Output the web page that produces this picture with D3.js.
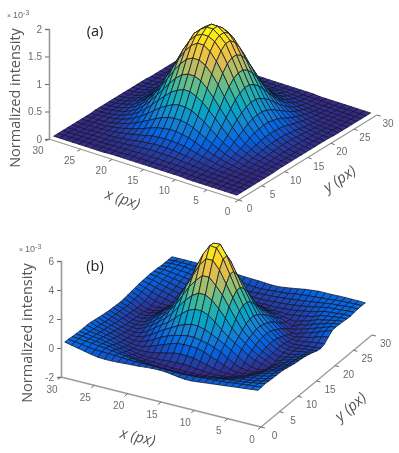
<!DOCTYPE html>
<html>
<head>
<meta charset="utf-8">
<script src="https://cdnjs.cloudflare.com/ajax/libs/d3/7.8.5/d3.min.js"></script>
<style>
  html, body { margin: 0; padding: 0; background: #fff; }
  svg { display: block; filter: blur(0.3px); }
</style>
</head>
<body>
<svg width="399" height="453"></svg>
<script>
// tick labels
const xyTicks = [0, 5, 10, 15, 20, 25, 30];
const zTicksA = [0, 0.5, 1, 1.5, 2];
const zTicksB = [-2, 0, 2, 4, 6];

// grid positions along x and y (px)
const gridPx = [1,2,3,4,5,6,7,8,9,10,11,12,13,14,15,16,17,18,19,20,21,22,23,24,25,26,27,28,29,30];

// surface (a), units of 1e-5. rows = x, columns = y
const surfaceA = [
[0,0,0,0,0,0,0,0,0,1,1,1,1,1,1,1,1,1,1,1,1,0,0,0,0,0,0,0,0,0],
[0,0,0,0,0,0,0,1,1,1,1,2,2,2,2,2,2,2,2,1,1,1,1,0,0,0,0,0,0,0],
[0,0,0,0,0,1,1,1,2,2,3,3,4,4,4,4,4,4,3,3,2,2,1,1,1,0,0,0,0,0],
[0,0,0,0,1,1,1,2,3,4,5,6,7,8,8,8,8,7,6,5,4,3,2,1,1,1,0,0,0,0],
[0,0,0,1,1,2,2,3,5,6,8,10,11,13,13,13,13,11,10,8,6,5,3,2,2,1,1,0,0,0],
[0,0,1,1,2,3,4,6,8,11,13,16,19,20,21,21,20,19,16,13,11,8,6,4,3,2,1,1,0,0],
[0,0,1,1,2,4,6,9,12,16,20,25,29,31,33,33,31,29,25,20,16,12,9,6,4,2,1,1,0,0],
[0,1,1,2,3,6,9,13,18,24,30,36,42,46,48,48,46,42,36,30,24,18,13,9,6,3,2,1,1,0],
[0,1,2,3,5,8,12,18,25,33,42,51,58,64,67,67,64,58,51,42,33,25,18,12,8,5,3,2,1,0],
[1,1,2,4,6,11,16,24,33,44,56,67,78,85,90,90,85,78,67,56,44,33,24,16,11,6,4,2,1,1],
[1,1,3,5,8,13,20,30,42,56,70,85,98,108,113,113,108,98,85,70,56,42,30,20,13,8,5,3,1,1],
[1,2,3,6,10,16,25,36,51,67,85,103,119,131,137,137,131,119,103,85,67,51,36,25,16,10,6,3,2,1],
[1,2,4,7,11,19,29,42,58,78,98,119,137,151,159,159,151,137,119,98,78,58,42,29,19,11,7,4,2,1],
[1,2,4,8,13,20,31,46,64,85,108,131,151,164,170,170,164,151,131,108,85,64,46,31,20,13,8,4,2,1],
[1,2,4,8,13,21,33,48,67,90,113,137,159,170,178,178,170,159,137,113,90,67,48,33,21,13,8,4,2,1],
[1,2,4,8,13,21,33,48,67,90,113,137,159,170,178,178,170,159,137,113,90,67,48,33,21,13,8,4,2,1],
[1,2,4,8,13,20,31,46,64,85,108,131,151,164,170,170,164,151,131,108,85,64,46,31,20,13,8,4,2,1],
[1,2,4,7,11,19,29,42,58,78,98,119,137,151,159,159,151,137,119,98,78,58,42,29,19,11,7,4,2,1],
[1,2,3,6,10,16,25,36,51,67,85,103,119,131,137,137,131,119,103,85,67,51,36,25,16,10,6,3,2,1],
[1,1,3,5,8,13,20,30,42,56,70,85,98,108,113,113,108,98,85,70,56,42,30,20,13,8,5,3,1,1],
[1,1,2,4,6,11,16,24,33,44,56,67,78,85,90,90,85,78,67,56,44,33,24,16,11,6,4,2,1,1],
[0,1,2,3,5,8,12,18,25,33,42,51,58,64,67,67,64,58,51,42,33,25,18,12,8,5,3,2,1,0],
[0,1,1,2,3,6,9,13,18,24,30,36,42,46,48,48,46,42,36,30,24,18,13,9,6,3,2,1,1,0],
[0,0,1,1,2,4,6,9,12,16,20,25,29,31,33,33,31,29,25,20,16,12,9,6,4,2,1,1,0,0],
[0,0,1,1,2,3,4,6,8,11,13,16,19,20,21,21,20,19,16,13,11,8,6,4,3,2,1,1,0,0],
[0,0,0,1,1,2,2,3,5,6,8,10,11,13,13,13,13,11,10,8,6,5,3,2,2,1,1,0,0,0],
[0,0,0,0,1,1,1,2,3,4,5,6,7,8,8,8,8,7,6,5,4,3,2,1,1,1,0,0,0,0],
[0,0,0,0,0,1,1,1,2,2,3,3,4,4,4,4,4,4,3,3,2,2,1,1,1,0,0,0,0,0],
[0,0,0,0,0,0,0,1,1,1,1,2,2,2,2,2,2,2,2,1,1,1,1,0,0,0,0,0,0,0],
[0,0,0,0,0,0,0,0,0,1,1,1,1,1,1,1,1,1,1,1,1,0,0,0,0,0,0,0,0,0]
];

// surface (b), units of 1e-5. rows = x, columns = y
const surfaceB = [
[20,22,25,22,20,18,18,15,8,2,-5,-8,-12,-18,-25,-35,-45,-50,-40,-15,8,12,10,8,5,3,8,10,12,10],
[15,16,14,8,3,0,-3,-6,-12,-18,-24,-28,-32,-36,-42,-46,-52,-55,-45,-22,-5,2,4,4,3,4,6,10,12,12],
[10,12,8,0,-6,-10,-14,-20,-28,-34,-40,-45,-48,-50,-52,-54,-55,-58,-52,-38,-24,-14,-8,-6,-4,-2,2,6,10,12],
[5,6,0,-8,-14,-20,-26,-35,-42,-50,-56,-60,-60,-62,-62,-62,-64,-64,-60,-52,-40,-30,-22,-16,-10,-6,-2,2,8,12],
[0,2,-6,-12,-22,-32,-45,-55,-68,-76,-80,-84,-80,-70,-62,-62,-66,-68,-66,-60,-52,-44,-34,-24,-17,-10,-4,0,4,12],
[-5,-5,-10,-22,-34,-48,-62,-72,-80,-84,-66,-62,-58,-54,-50,-50,-54,-62,-68,-72,-70,-60,-54,-46,-36,-25,-14,-8,-2,10],
[-10,-8,-16,-32,-47,-62,-74,-82,-84,-78,-54,-43,-35,-25,-22,-22,-28,-40,-52,-66,-78,-72,-61,-55,-46,-35,-24,-14,-4,10],
[-15,-12,-22,-43,-58,-73,-82,-84,-77,-60,-30,-15,-1,11,15,15,11,-4,-20,-36,-58,-80,-85,-72,-54,-43,-32,-20,-8,10],
[-20,-14,-28,-52,-68,-80,-84,-76,-58,-30,-1,19,35,45,55,55,45,35,19,-3,-28,-52,-66,-70,-60,-51,-39,-27,-12,5],
[-25,-18,-34,-62,-76,-84,-80,-60,-30,3,31,55,80,100,112,112,100,80,55,31,3,-26,-48,-62,-66,-56,-46,-32,-16,0],
[-30,-22,-40,-68,-80,-84,-70,-38,-1,31,60,100,142,177,195,195,177,142,100,60,31,-1,-32,-52,-64,-60,-51,-38,-22,-8],
[-30,-24,-44,-72,-84,-80,-58,-20,19,55,100,158,213,258,285,285,258,213,158,100,55,19,-15,-46,-62,-64,-55,-42,-30,-15],
[-25,-28,-48,-76,-84,-76,-47,-1,35,80,142,213,285,340,385,385,340,285,213,142,80,35,-1,-38,-58,-64,-57,-46,-34,-22],
[-18,-26,-48,-78,-84,-70,-34,11,45,100,177,258,340,425,480,480,425,340,258,177,100,45,11,-28,-54,-64,-60,-50,-38,-28],
[-12,-24,-48,-80,-84,-68,-30,15,55,112,195,285,385,480,545,550,480,385,285,195,112,55,15,-24,-52,-66,-62,-52,-42,-28],
[-10,-24,-48,-80,-84,-68,-30,15,55,112,195,285,385,480,550,545,480,385,285,195,112,55,15,-22,-50,-64,-62,-52,-44,-25],
[-12,-22,-46,-78,-82,-70,-34,11,45,100,177,258,340,425,480,480,425,340,258,177,100,45,11,-25,-52,-62,-62,-56,-44,-22],
[-15,-22,-46,-74,-80,-74,-46,-1,35,80,142,213,285,340,385,385,340,285,213,142,80,35,-1,-35,-56,-62,-60,-52,-40,-20],
[-20,-22,-42,-66,-76,-76,-56,-20,19,55,100,158,213,258,285,285,258,213,158,100,55,19,-15,-43,-59,-62,-55,-44,-32,-18],
[-22,-22,-38,-60,-74,-78,-66,-36,-1,31,60,100,142,177,195,195,177,142,100,60,31,-1,-29,-52,-62,-60,-51,-38,-26,-15],
[-25,-20,-32,-54,-68,-76,-72,-54,-28,3,31,55,80,100,112,112,100,80,55,31,3,-22,-45,-59,-62,-56,-46,-32,-20,-12],
[-28,-18,-27,-44,-60,-72,-74,-68,-50,-26,-1,19,35,45,55,55,45,35,19,-1,-22,-43,-57,-62,-60,-51,-39,-27,-16,-10],
[-30,-14,-20,-36,-50,-62,-70,-72,-66,-52,-34,-15,-1,11,15,15,11,-1,-15,-29,-45,-57,-62,-61,-54,-43,-32,-20,-11,-8],
[-30,-12,-14,-26,-40,-52,-62,-68,-70,-66,-58,-43,-35,-25,-22,-24,-28,-40,-50,-60,-66,-70,-66,-55,-46,-35,-24,-14,-8,-8],
[-28,-10,-8,-16,-28,-40,-50,-58,-64,-68,-68,-66,-60,-56,-54,-56,-60,-64,-70,-74,-72,-64,-54,-46,-36,-25,-16,-8,-5,-6],
[-20,-8,-4,-9,-17,-25,-35,-44,-52,-58,-64,-66,-68,-68,-68,-70,-74,-78,-78,-72,-60,-50,-43,-35,-25,-17,-9,-4,-4,-5],
[-10,-2,2,-4,-9,-16,-24,-32,-39,-46,-52,-58,-62,-66,-68,-70,-76,-80,-76,-64,-50,-38,-32,-24,-16,-9,-4,0,-3,-5],
[0,6,6,2,-4,-8,-14,-20,-27,-32,-38,-42,-46,-50,-52,-56,-60,-60,-54,-46,-36,-26,-20,-14,-8,-4,0,2,-2,-5],
[10,12,12,8,3,-2,-5,-10,-15,-20,-25,-28,-30,-32,-34,-36,-36,-34,-30,-24,-18,-12,-6,-2,0,2,3,2,-2,-5],
[20,18,15,12,10,10,10,8,2,-3,-8,-12,-16,-18,-20,-22,-20,-16,-12,-8,-4,-2,0,2,0,0,-5,-5,-5,-5]
];

// parula
const parula = ["#352a87","#0363e1","#1485d4","#06a7c6","#38b99e","#92bf73","#d9ba56","#fcce2e","#f9fb0e"];

// panel layout, corners of the 3D box in page pixels
const panels = [
    {
        name: "(a)", nameX: 95, nameY: 36, z: surfaceA, zTicks: zTicksA, zUnit: 100,
        zDomain: [0, 2], corner: [238.5, 200], xEnd: [49, 139], yEnd: [377, 115], zTop: 29, zBase: 139, zAxisX: 49,
        zTitle: [14, 98], expo: [7, 18],
        xLabelOff: [-11, 11], yLabelOff: [11, 8.5],
        xTitle: [123, 198, 18], yTitle: [339, 178, -34]
    },
    {
        name: "(b)", nameX: 95, nameY: 271, z: surfaceB, zTicks: zTicksB, zUnit: 100,
        zDomain: [-2, 6], corner: [261, 427], xEnd: [61, 377], yEnd: [372, 335], zTop: 261, zBase: 377, zAxisX: 61,
        zTitle: [26, 333], expo: [19, 252],
        xLabelOff: [-9, 12], yLabelOff: [13.5, 8.5],
        xTitle: [138, 436, 14], yTitle: [350, 406, -40]
    }
];

const svg = d3.select("svg");
const gray = "#6b6b6b";
const fontTick = "'Liberation Sans', sans-serif";
const fontTitle = "'Open Sans', sans-serif";

panels.forEach(p => {
    const g = svg.append("g");

    // one scale for each screen direction of each data axis
    const xh = d3.scaleLinear().domain([0, 30]).range([0, p.xEnd[0] - p.corner[0]]);
    const xv = d3.scaleLinear().domain([0, 30]).range([0, p.xEnd[1] - p.corner[1]]);
    const yh = d3.scaleLinear().domain([0, 30]).range([0, p.yEnd[0] - p.corner[0]]);
    const yv = d3.scaleLinear().domain([0, 30]).range([0, p.yEnd[1] - p.corner[1]]);
    const zv = d3.scaleLinear().domain(p.zDomain).range([p.zBase, p.zTop]);

    const project = (x, y, z) => [
        p.corner[0] + xh(x) + yh(y),
        zv(z) - p.zBase + p.corner[1] + xv(x) + yv(y)
    ];

    const flat = p.z.flat().map(v => v / p.zUnit);
    const [zMin, zMax] = d3.extent(flat);
    const color = d3.scaleLinear()
        .domain(parula.map((c, i) => zMin + i / (parula.length - 1) * (zMax - zMin)))
        .range(parula)
        .interpolate(d3.interpolateRgb);

    // cells, back to front
    const cells = [];
    for (let i = gridPx.length - 2; i >= 0; i--) {
        for (let j = gridPx.length - 2; j >= 0; j--) {
            const zs = [p.z[i][j], p.z[i + 1][j], p.z[i + 1][j + 1], p.z[i][j + 1]].map(v => v / p.zUnit);
            cells.push({
                pts: [
                    project(gridPx[i], gridPx[j], zs[0]),
                    project(gridPx[i + 1], gridPx[j], zs[1]),
                    project(gridPx[i + 1], gridPx[j + 1], zs[2]),
                    project(gridPx[i], gridPx[j + 1], zs[3])
                ],
                z: d3.mean(zs)
            });
        }
    }
    const line = d3.line().curve(d3.curveLinearClosed);
    g.append("g").selectAll("path")
        .data(cells)
        .enter()
        .append("path")
        .attr("d", d => line(d.pts))
        .attr("fill", d => color(d.z))
        .attr("stroke", "#14142a")
        .attr("stroke-width", 0.75)
        .attr("stroke-linejoin", "round");

    // axes
    const axisColor = "#999";
    const ax = g.append("g");
    ax.append("line")
        .attr("x1", p.xEnd[0]).attr("y1", p.xEnd[1]).attr("x2", p.corner[0]).attr("y2", p.corner[1])
        .attr("stroke", axisColor).attr("stroke-width", 1.3);
    ax.append("line")
        .attr("x1", p.corner[0]).attr("y1", p.corner[1]).attr("x2", p.yEnd[0]).attr("y2", p.yEnd[1])
        .attr("stroke", axisColor).attr("stroke-width", 1.3);

    // z axis with d3's own axis generator
    const zAxis = d3.axisLeft(zv)
        .tickValues(p.zTicks)
        .tickFormat(d => d)
        .tickSize(4)
        .tickPadding(3);
    const zg = g.append("g")
        .attr("transform", `translate(${p.zAxisX},0)`)
        .call(zAxis);
    zg.select(".domain").attr("stroke", axisColor).attr("stroke-width", 1.6);
    zg.selectAll(".tick line").attr("stroke", gray);
    zg.selectAll(".tick text")
        .attr("fill", gray)
        .attr("font-size", 10)
        .attr("font-family", fontTick);

    // x ticks point along -y, y ticks along -x
    const yLen = Math.hypot(yh(1) - yh(0), yv(1) - yv(0));
    const xLen = Math.hypot(xh(1) - xh(0), xv(1) - xv(0));
    const tickLen = 4;

    ax.selectAll(".xtick")
        .data(xyTicks)
        .enter()
        .append("line")
        .attr("x1", d => p.corner[0] + xh(d))
        .attr("y1", d => p.corner[1] + xv(d))
        .attr("x2", d => p.corner[0] + xh(d) - (yh(1) - yh(0)) / yLen * tickLen)
        .attr("y2", d => p.corner[1] + xv(d) - (yv(1) - yv(0)) / yLen * tickLen)
        .attr("stroke", gray);

    ax.selectAll(".ytick")
        .data(xyTicks)
        .enter()
        .append("line")
        .attr("x1", d => p.corner[0] + yh(d))
        .attr("y1", d => p.corner[1] + yv(d))
        .attr("x2", d => p.corner[0] + yh(d) - (xh(1) - xh(0)) / xLen * tickLen)
        .attr("y2", d => p.corner[1] + yv(d) - (xv(1) - xv(0)) / xLen * tickLen)
        .attr("stroke", gray);

    const tickText = sel => sel
        .attr("fill", gray)
        .attr("font-size", 10)
        .attr("font-family", fontTick)
        .attr("text-anchor", "middle")
        .attr("dominant-baseline", "central");

    ax.selectAll(".xlab")
        .data(xyTicks)
        .enter()
        .append("text")
        .attr("x", d => p.corner[0] + xh(d) + p.xLabelOff[0])
        .attr("y", d => p.corner[1] + xv(d) + p.xLabelOff[1])
        .text(d => d)
        .call(tickText);

    ax.selectAll(".ylab")
        .data(xyTicks)
        .enter()
        .append("text")
        .attr("x", d => p.corner[0] + yh(d) + p.yLabelOff[0])
        .attr("y", d => p.corner[1] + yv(d) + p.yLabelOff[1])
        .text(d => d)
        .call(tickText);

    // titles
    const title = (txt, x, y, rot, size) => g.append("text")
        .attr("transform", `translate(${x},${y}) rotate(${rot})`)
        .attr("text-anchor", "middle")
        .attr("dominant-baseline", "central")
        .attr("fill", "#555")
        .attr("font-size", size)
        .attr("font-family", fontTitle)
        .text(txt);

    title("Normalized intensity", p.zTitle[0], p.zTitle[1], -90, 14.5);
    title("x (px)", p.xTitle[0], p.xTitle[1], p.xTitle[2], 15).attr("font-style", "italic");
    title("y (px)", p.yTitle[0], p.yTitle[1], p.yTitle[2], 15).attr("font-style", "italic");

    g.append("text")
        .attr("x", p.nameX)
        .attr("y", p.nameY)
        .attr("text-anchor", "middle")
        .attr("fill", "#222")
        .attr("font-size", 14.5)
        .attr("font-family", fontTitle)
        .text(p.name);

    // exponent
    const ex = g.append("text")
        .attr("x", p.expo[0])
        .attr("y", p.expo[1])
        .attr("fill", gray)
        .attr("font-size", 9)
        .attr("font-family", fontTick);
    ex.append("tspan").attr("font-size", 7).text("× ");
    ex.append("tspan").text("10");
    ex.append("tspan").attr("font-size", 7).attr("dy", -3).text("-3");
});
</script>
</body>
</html>
